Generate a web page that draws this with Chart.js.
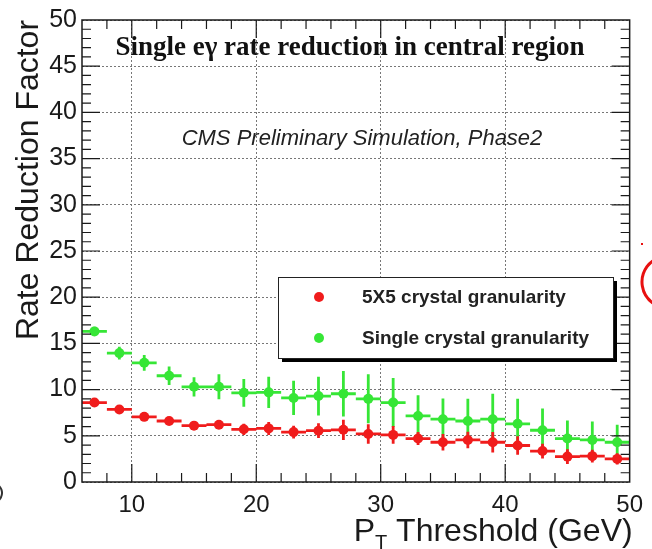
<!DOCTYPE html>
<html>
<head>
<meta charset="utf-8">
<script src="https://cdn.jsdelivr.net/npm/chart.js@4.4.1/dist/chart.umd.min.js"></script>
<style>
  html, body { margin: 0; padding: 0; background: #fff; }
  #wrap { width: 652px; height: 549px; position: relative; }
</style>
</head>
<body>
<div id="wrap"><canvas id="rateChart"></canvas></div>
<script>
"use strict";

// pT threshold bin centres (GeV), each bin 2 GeV wide
var ptBins = [7, 9, 11, 13, 15, 17, 19, 21, 23, 25, 27, 29, 31, 33, 35, 37, 39, 41, 43, 45, 47, 49];
var binWidth = 2;

// 5x5 crystal granularity
var rate5x5 = [8.6, 7.85, 7.05, 6.6, 6.1, 6.2, 5.7, 5.8, 5.4, 5.55, 5.65, 5.2, 5.1, 4.7, 4.3, 4.55, 4.3, 3.95, 3.35, 2.75, 2.8, 2.5];
var err5x5 = [0.2, 0.2, 0.25, 0.3, 0.35, 0.4, 0.6, 0.7, 0.7, 0.8, 1.1, 1.05, 0.95, 0.7, 0.9, 0.9, 1.1, 1.0, 0.8, 0.8, 0.7, 0.6];

// single crystal granularity
var rateSingle = [16.3, 13.95, 12.9, 11.5, 10.3, 10.3, 9.65, 9.7, 9.1, 9.3, 9.55, 9.0, 8.6, 7.15, 6.8, 6.6, 6.8, 6.3, 5.6, 4.7, 4.55, 4.3];
var errSingle = [0.5, 0.7, 0.85, 1.0, 1.05, 1.35, 1.5, 1.7, 1.85, 2.1, 2.45, 2.65, 2.65, 2.25, 2.25, 2.4, 2.75, 2.7, 2.35, 1.95, 2.0, 1.9];

var xTicks = [10, 20, 30, 40, 50];
var yTicks = [0, 5, 10, 15, 20, 25, 30, 35, 40, 45, 50];

var seriesNames = ['5X5 crystal granularity', 'Single crystal granularity'];
var RED = '#f01c1c';
var GREEN = '#36e636';
var SANS = '"Liberation Sans", Arial, Helvetica, sans-serif';
var SERIF = '"Liberation Serif", "Times New Roman", serif';

function points(ys){
    return ptBins.map(function(x, i){ return {x: x, y: ys[i]}; });
}

// error bars drawn just before each dataset's markers
var errorBars = {
    id: 'errorBars',
    beforeDatasetDraw: function(chart, args){
        var ds = chart.data.datasets[args.index];
        var xs = chart.scales.x, ys = chart.scales.y;
        var ctx = chart.ctx;
        ctx.save();
        ctx.strokeStyle = ds.backgroundColor;
        ctx.lineWidth = 2.8;
        ctx.beginPath();
        ds.data.forEach(function(p, i){
            var cx = xs.getPixelForValue(p.x);
            var cy = ys.getPixelForValue(p.y);
            ctx.moveTo(xs.getPixelForValue(p.x - binWidth / 2), cy);
            ctx.lineTo(xs.getPixelForValue(p.x + binWidth / 2), cy);
            ctx.moveTo(cx, ys.getPixelForValue(p.y - ds.errors[i]));
            ctx.lineTo(cx, ys.getPixelForValue(p.y + ds.errors[i]));
        });
        ctx.stroke();
        ctx.restore();
    }
};

// frame with ticks on all four sides, titles, legend box
var decor = {
    id: 'decor',
    afterDraw: function(chart){
        var ctx = chart.ctx;
        var a = chart.chartArea;
        var xs = chart.scales.x, ys = chart.scales.y;
        var v, px, len;
        ctx.save();

        ctx.strokeStyle = '#1a1a1a';
        ctx.lineWidth = 1.5;
        ctx.strokeRect(a.left, a.top, a.right - a.left, a.bottom - a.top);

        ctx.lineWidth = 1.2;
        ctx.beginPath();
        for(v = 8; v < 50; v += 2){
            px = xs.getPixelForValue(v);
            len = (v % 10 === 0) ? 18 : 9;
            ctx.moveTo(px, a.bottom); ctx.lineTo(px, a.bottom - len);
            ctx.moveTo(px, a.top); ctx.lineTo(px, a.top + len);
        }
        for(v = 1; v < 50; v += 1){
            px = ys.getPixelForValue(v);
            len = (v % 5 === 0) ? 18 : 9;
            ctx.moveTo(a.left, px); ctx.lineTo(a.left + len, px);
            ctx.moveTo(a.right, px); ctx.lineTo(a.right - len, px);
        }
        ctx.stroke();

        // axis titles
        ctx.fillStyle = '#1a1a1a';
        ctx.textBaseline = 'alphabetic';
        ctx.font = '32px ' + SANS;
        var mainW = ctx.measureText(' Threshold (GeV)').width;
        var pW = ctx.measureText('P').width;
        ctx.font = '20px ' + SANS;
        var tW = ctx.measureText('T').width;
        var xEnd = a.right + 3;
        var x0 = xEnd - mainW - tW - pW;
        ctx.font = '32px ' + SANS;
        ctx.textAlign = 'left';
        ctx.fillText('P', x0, 541);
        ctx.font = '20px ' + SANS;
        ctx.fillText('T', x0 + pW, 549);
        ctx.font = '32px ' + SANS;
        ctx.fillText(' Threshold (GeV)', x0 + pW + tW, 541);

        ctx.save();
        ctx.translate(38, 180);
        ctx.rotate(-Math.PI / 2);
        ctx.textAlign = 'center';
        ctx.fillText('Rate Reduction Factor', 0, 0);
        ctx.restore();

        // in-frame captions
        ctx.fillStyle = '#111';
        ctx.textAlign = 'center';
        ctx.font = 'bold 27px ' + SERIF;
        ctx.fillText('Single e\u03b3 rate reduction in central region', 350, 55);
        ctx.fillStyle = '#222';
        ctx.font = 'italic 22px ' + SANS;
        ctx.fillText('CMS Preliminary Simulation, Phase2', 362, 145);

        // legend box with drop shadow
        var lx = 278, ly = 277, lw = 335, lh = 81;
        ctx.fillStyle = '#000';
        ctx.fillRect(lx + 4, ly + 4, lw, lh);
        ctx.fillStyle = '#fff';
        ctx.fillRect(lx, ly, lw, lh);
        ctx.strokeStyle = '#222';
        ctx.lineWidth = 1;
        ctx.strokeRect(lx + 0.5, ly + 0.5, lw, lh);
        var cols = [RED, GREEN];
        ctx.font = 'bold 19px ' + SANS;
        ctx.textAlign = 'left';
        ctx.textBaseline = 'middle';
        seriesNames.forEach(function(name, i){
            var yy = ly + 20 + i * 41;
            ctx.fillStyle = cols[i];
            ctx.beginPath();
            ctx.arc(lx + 41, yy, 5, 0, Math.PI * 2);
            ctx.fill();
            ctx.fillStyle = '#222';
            ctx.fillText(name, lx + 84, yy + 1);
        });

        // bits of neighbouring figure at the edges
        ctx.strokeStyle = '#e81010';
        ctx.lineWidth = 3;
        ctx.beginPath();
        ctx.arc(668, 282, 26, Math.PI * 0.7, Math.PI * 1.3);
        ctx.stroke();
        ctx.fillStyle = '#e81010';
        ctx.fillRect(641, 243, 2, 2);
        ctx.strokeStyle = '#333';
        ctx.lineWidth = 2;
        ctx.beginPath();
        ctx.arc(-8, 493, 10, -Math.PI * 0.35, Math.PI * 0.35);
        ctx.stroke();

        ctx.restore();
    }
};

var ctx = document.getElementById('rateChart').getContext('2d');
new Chart(ctx, {
    type: 'scatter',
    data: {
        datasets: [{
            label: seriesNames[0],
            data: points(rate5x5),
            errors: err5x5,
            backgroundColor: RED,
            borderColor: RED,
            pointRadius: 5,
            pointBorderWidth: 0,
            pointHoverRadius: 5
        }, {
            label: seriesNames[1],
            data: points(rateSingle),
            errors: errSingle,
            backgroundColor: GREEN,
            borderColor: GREEN,
            pointRadius: 5,
            pointBorderWidth: 0,
            pointHoverRadius: 5
        }]
    },
    options: {
        responsive: true,
        maintainAspectRatio: false,
        animation: false,
        layout: { padding: { left: 0, top: 17, right: 13.5, bottom: 0 } },
        plugins: {
            legend: { display: false },
            tooltip: { enabled: false }
        },
        scales: {
            x: {
                type: 'linear',
                min: 6,
                max: 50,
                afterBuildTicks: function(scale){
                    scale.ticks = xTicks.map(function(v){ return {value: v}; });
                },
                afterFit: function(scale){ scale.height = 67; },
                grid: { color: '#777', lineWidth: 1, drawTicks: false },
                border: { display: false, dash: [2, 2] },
                ticks: {
                    padding: 9,
                    maxRotation: 0,
                    color: '#1a1a1a',
                    font: { family: SANS, size: 24 }
                }
            },
            y: {
                type: 'linear',
                min: 0,
                max: 50,
                afterBuildTicks: function(scale){
                    scale.ticks = yTicks.map(function(v){ return {value: v}; });
                },
                afterFit: function(scale){ scale.width = 82; },
                grid: { color: '#777', lineWidth: 1, drawTicks: false },
                border: { display: false, dash: [2, 2] },
                ticks: {
                    padding: 5,
                    color: '#1a1a1a',
                    font: { family: SANS, size: 25 }
                }
            }
        }
    },
    plugins: [errorBars, decor]
});
</script>
</body>
</html>
